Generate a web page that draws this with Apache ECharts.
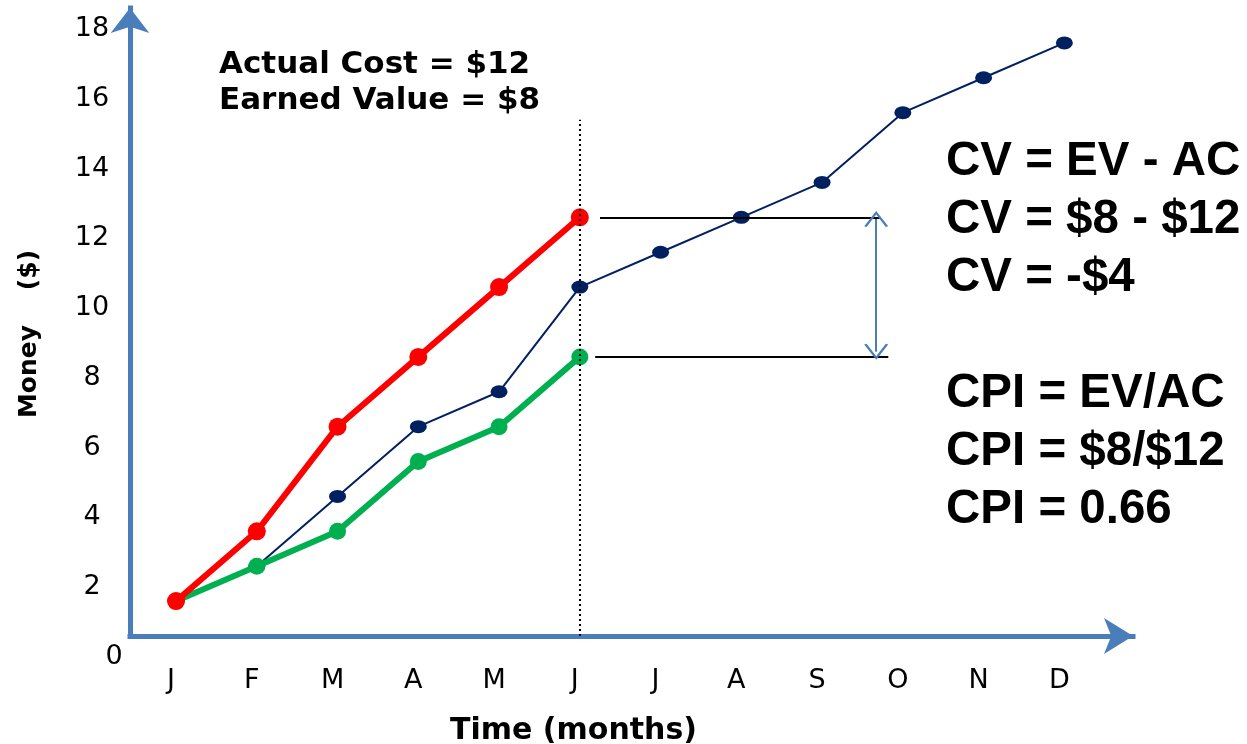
<!DOCTYPE html>
<html>
<head>
<meta charset="utf-8">
<script src="https://cdn.jsdelivr.net/npm/echarts@6/dist/echarts.min.js"></script>
<style>html,body{margin:0;padding:0;background:#fff}#c{width:1247px;height:744px}</style>
</head>
<body>
<div id="c"></div>
<script>
const months = ['J','F','M','A','M','J','J','A','S','O','N','D'];
const planned = [1,2,4,6,7,10,11,12,13,15,16,17];
const actualCost = [1,3,6,8,10,12];
const earnedValue = [1,2,3,5,6,8];
const yTicks = [0,2,4,6,8,10,12,14,16,18];
const statusDate = 5;
const cvText = ['CV = EV - AC','CV = $8 - $12','CV = -$4','','CPI = EV/AC','CPI = $8/$12','CPI = 0.66'];
const noteText = ['Actual Cost = $12','Earned Value = $8'];

const toPts = arr => arr.map((v,i)=>[i,v]);
const axisBlue = '#4a7ebb';
const chevron = 'path://M0,12 L6,0 L12,12 L10.8,12.6 L6,2.6 L1.2,12.6 Z';

const chart = echarts.init(document.getElementById('c'));
chart.setOption({
  animation:false,
  backgroundColor:'#fff',
  title:[
    {text: noteText.join('\n'), left:214, top:42,
     textStyle:{fontFamily:'DejaVu Sans', fontWeight:'bold', fontSize:31, lineHeight:36, color:'#000'}},
    {text: cvText.join('\n'), left:941, top:128,
     textStyle:{fontFamily:'Liberation Sans', fontWeight:'bold', fontSize:47.5, lineHeight:58, color:'#000'}}
  ],
  grid:{left:130, right:1247-1133, top:8, bottom:108, containLabel:false, outerBoundsMode:'none'},
  xAxis:{
    type:'value', min:-0.57, max:11.85,
    splitLine:{show:false},
    axisTick:{show:false},
    axisLine:{show:true, onZero:false, symbol:['none','arrow'], symbolSize:[27,29], symbolOffset:[0,0],
      lineStyle:{color:axisBlue, width:5, cap:'square'}},
    axisLabel:{customValues: months.map((m,i)=>i), formatter: v => months[Math.round(v)],
      fontFamily:'DejaVu Sans', fontSize:27, color:'#000', margin:31, padding:[0,10,0,0]},
    name:'Time (months)', nameLocation:'middle', nameGap:80,
    nameTextStyle:{fontFamily:'DejaVu Sans', fontWeight:'bold', fontSize:30, color:'#000', padding:[0,116,0,0]}
  },
  yAxis:{
    type:'value', min:0, max:18, interval:2,
    splitLine:{show:false},
    axisTick:{show:false},
    axisLine:{show:true, onZero:false, symbol:['none','arrow'], symbolSize:[29,25], symbolOffset:[0,0],
      lineStyle:{color:axisBlue, width:5, cap:'square'}},
    axisLabel:{customValues: yTicks, formatter: v => v===0 ? '{z|0}' : String(v),
      fontFamily:'DejaVu Sans', fontSize:27, color:'#000', align:'center', margin:38, padding:[42,0,0,0],
      rich:{z:{fontFamily:'DejaVu Sans', fontSize:27, color:'#000', padding:[0,0,0,44]}}},
    name:'Money    ($)', nameLocation:'middle', nameRotate:90, nameGap:88,
    nameTextStyle:{fontFamily:'DejaVu Sans', fontWeight:'bold', fontSize:25, color:'#000', padding:[0,24,0,0]}
  },
  series:[
    {name:'Planned', type:'line', data:toPts(planned), symbol:'circle', symbolSize:[17,13],
      itemStyle:{color:'#002060'}, lineStyle:{color:'#002060', width:2}, z:2,
      markLine:{silent:true, symbol:'none', label:{show:false}, animation:false,
        data:[
          [{coord:[statusDate,0], lineStyle:{color:'#000', type:[2,3], width:2}}, {coord:[statusDate,14.8]}],
          [{coord:[5.25,12], lineStyle:{color:'#000', type:'solid', width:2}}, {coord:[8.72,12]}],
          [{coord:[5.19,8], lineStyle:{color:'#000', type:'solid', width:2}}, {coord:[8.82,8]}],
          [{coord:[8.67,11.95], symbol:chevron, symbolSize:[24,16], lineStyle:{color:axisBlue, type:'solid', width:2}},
           {coord:[8.67,8.15], symbol:chevron, symbolSize:[24,16]}]
        ]}},
    {name:'Earned Value', type:'line', data:toPts(earnedValue), symbol:'circle', symbolSize:17,
      itemStyle:{color:'#00B050'}, lineStyle:{color:'#00B050', width:6}, z:3},
    {name:'Actual Cost', type:'line', data:toPts(actualCost), symbol:'circle', symbolSize:18,
      itemStyle:{color:'#FF0000'}, lineStyle:{color:'#FF0000', width:6}, z:4}
  ]
});
</script>
</body>
</html>
